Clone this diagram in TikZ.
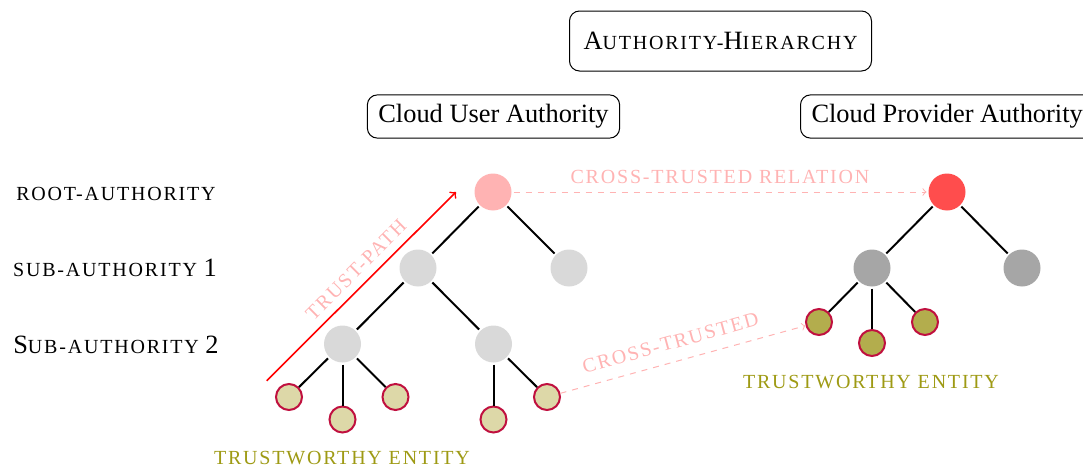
\documentclass[tikz,border=0pt]{standalone}
\usepackage{fontspec}
\setmainfont{Liberation Serif}
\newfontfamily\scspaced[LetterSpace=9]{Liberation Serif}
% small capitals: upper-case letters set smaller and spaced out
\newcommand\capsmall[1]{{\fontsize{10}{11}\scspaced #1}}

\definecolor{leafpale}{HTML}{DDD8A8}
\definecolor{leafdeep}{HTML}{B3AD4D}
\definecolor{entitytext}{HTML}{9E9A14}
\definecolor{trustpink}{HTML}{FFB3B3}
\definecolor{ringred}{HTML}{C0103F}
\definecolor{rootpale}{HTML}{FFB3B3}
\definecolor{rootdeep}{HTML}{FF4D4D}
\definecolor{subpale}{HTML}{D9D9D9}
\definecolor{subdeep}{HTML}{A6A6A6}

\tikzset{
  titlebox/.style={draw, rounded corners=5pt, line width=0.5pt, inner xsep=5.5pt, inner ysep=4.8pt},
  auth/.style={circle, minimum size=18.5pt, inner sep=0pt, outer sep=1pt},
  leaf/.style={circle, draw=ringred, line width=1pt, minimum size=13pt, inner sep=0pt, outer sep=0.5pt},
  edge/.style={line width=1pt, black},
  crossline/.style={trustpink, dashed, line width=0.5pt, ->},
  pinklabel/.style={text=trustpink, inner sep=2pt},
  entitylabel/.style={text=entitytext, anchor=base},
  levellabel/.style={anchor=base},
}

\begin{document}
\begin{tikzpicture}[x=0.5pt, y=-0.5pt, font=\fontsize{13.2}{15}\selectfont]
\useasboundingbox (0,0) rectangle (1083,466);

% headings
\node[titlebox, minimum height=30pt, inner xsep=7pt] (hier) at (720.5,41)
  {A\capsmall{UTHORITY-}H\capsmall{IERARCHY}};
\node[titlebox] (user) at (493.5,116.5) {Cloud User Authority};
\node[titlebox, anchor=west] (prov) at (800,116.5) {Cloud Provider Authority};

% level names
\node[levellabel] (lvroot) at (116,200) {\capsmall{ROOT-AUTHORITY}};
\node[levellabel] (lvsubA) at (115,276.7) {\capsmall{SUB-AUTHORITY} 1};
\node[levellabel] (lvsubB) at (116,353) {S\capsmall{UB-AUTHORITY} 2};

% cloud user hierarchy
\node[auth, fill=rootpale] (ur) at (493,192) {};
\node[auth, fill=subpale] (ua) at (418,268) {};
\node[auth, fill=subpale] (ub) at (569,268) {};
\node[auth, fill=subpale] (uaa) at (342.5,344) {};
\node[auth, fill=subpale] (uab) at (493.5,344) {};
\node[leaf, fill=leafpale] (ul1) at (289,397) {};
\node[leaf, fill=leafpale] (ul2) at (342.5,419.5) {};
\node[leaf, fill=leafpale] (ul3) at (395.5,397) {};
\node[leaf, fill=leafpale] (ul4) at (493.5,419.5) {};
\node[leaf, fill=leafpale] (ul5) at (547,397) {};

\draw[edge] (ur) -- (ua);
\draw[edge] (ur) -- (ub);
\draw[edge] (ua) -- (uaa);
\draw[edge] (ua) -- (uab);
\draw[edge] (uaa) -- (ul1);
\draw[edge] (uaa) -- (ul2);
\draw[edge] (uaa) -- (ul3);
\draw[edge] (uab) -- (ul4);
\draw[edge] (uab) -- (ul5);

\node[entitylabel] (uent) at (342,464) {\capsmall{TRUSTWORTHY ENTITY}};

% cloud provider hierarchy
\node[auth, fill=rootdeep] (pr) at (947,192) {};
\node[auth, fill=subdeep] (pa) at (872,268) {};
\node[auth, fill=subdeep] (pb) at (1022,268) {};
\node[leaf, fill=leafdeep] (pl1) at (819,322) {};
\node[leaf, fill=leafdeep] (pl2) at (872,343) {};
\node[leaf, fill=leafdeep] (pl3) at (925,322) {};

\draw[edge] (pr) -- (pa);
\draw[edge] (pr) -- (pb);
\draw[edge] (pa) -- (pl1);
\draw[edge] (pa) -- (pl2);
\draw[edge] (pa) -- (pl3);

\node[entitylabel] (pent) at (871,388) {\capsmall{TRUSTWORTHY ENTITY}};

% trust path up the user hierarchy
\coordinate (tpstart) at (266.7,380.7);
\coordinate (tpend) at (456,192);
\draw[red, line width=0.8pt, ->] (tpstart) -- (tpend)
  node[pos=0.53, sloped, above, pinklabel, inner sep=4pt] {\capsmall{TRUST-PATH}};

% cross-trust relations
\draw[crossline] (ur) -- (pr)
  node[midway, above, pinklabel, inner sep=4pt] {\capsmall{CROSS-TRUSTED RELATION}};
\draw[crossline] (ul5) -- (pl1)
  node[pos=0.47, sloped, above, pinklabel, inner sep=6pt] {\capsmall{CROSS-TRUSTED}};
\end{tikzpicture}
\end{document}
